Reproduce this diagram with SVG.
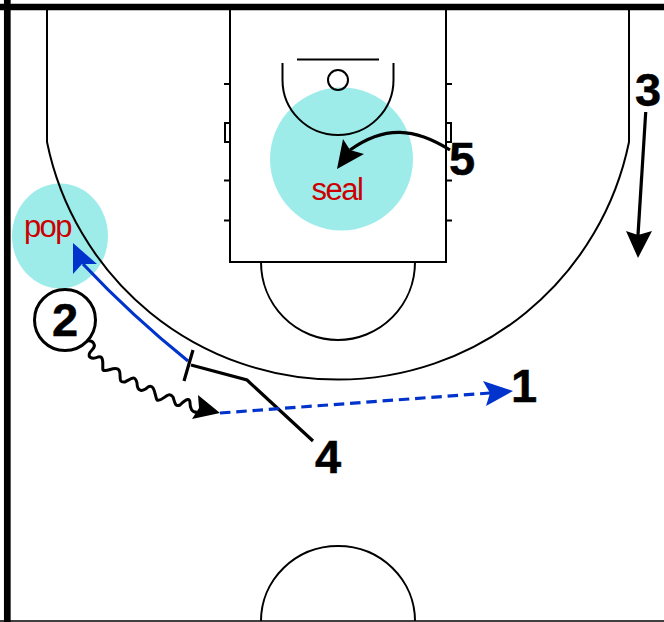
<svg xmlns="http://www.w3.org/2000/svg" width="664" height="622" viewBox="0 0 664 622">
<style>
.court{fill:none;stroke:#000;stroke-width:2}
.zone{fill:#9eecea}
.note{font-family:"Liberation Sans",Arial,sans-serif;font-size:31px;fill:#cc0000;text-anchor:middle;letter-spacing:-1.500px}
.num{font-family:"Liberation Sans",Arial,sans-serif;font-size:47px;font-weight:700;fill:#000;stroke:#000;stroke-width:.5;text-anchor:middle}
.k{fill:none;stroke:#000;stroke-width:3.200}
.w{fill:none;stroke:#000;stroke-width:3}
.b{fill:none;stroke:#0033cc;stroke-width:3.200}
.hk{fill:#000}
.hb{fill:#0033cc}
</style>
<rect width="664" height="622" fill="#fff"/>
<g id="zones">
<circle class="zone" cx="341.500" cy="159" r="71.500"/>
<ellipse class="zone" cx="60" cy="236" rx="48" ry="52.500"/>
</g>
<g id="court">
<path class="court" d="M230 10V262H446V10"/>
<path class="court" d="M47 10V142A297 297 0 0 0 629 142V10"/>
<path class="court" d="M297 59.500H379"/>
<path class="court" d="M282.500 63V80A55.500 55 0 0 0 393.500 80V63"/>
<circle class="court" cx="338" cy="80" r="10"/>
<path class="court" d="M261 262A77 78 0 0 0 415 262"/>
<path class="court" d="M261 621A77 75 0 0 1 415 621"/>
<path class="court" d="M224 84H230M224 180.500H230M224 220.500H230M446 84H452M446 180.500H452M446 220.500H452"/>
<path class="court" d="M230 123H225V142H230M446 123H451V142H446"/>
<path d="M0 7H664M7.300 0V622" fill="none" stroke="#000" stroke-width="6.700"/>
<path d="M0 621H664" fill="none" stroke="#000" stroke-width="1.500"/>
</g>
<g id="connectors">
<path class="w" d="M87 341C93 340 97 345 92 350C85 357 92 360 98 357C105 355 102 367 103 370C107 373 115 365 119 370C122 375 117 383 125 382C132 378 135 375 137 383C137 392 143 392 148 387C155 383 155 397 157 400C163 402 168 390 173 397C175 403 175 407 180 405C187 398 190 398 190 403C190 408 192 413 197 412"/>
<path class="hk" d="M220 413L192 419L199 408L198 395Z"/>
<path class="b" d="M188 361Q132 316 83 264"/>
<path class="hb" d="M73 243L97 264L82 264L73 274Z"/>
<path class="k" d="M193 350L184 381M191 365L247 380L313 441"/>
<path class="b" stroke-dasharray="10.500 5.800" d="M220 413L490 393"/>
<path class="hb" d="M513 391L486 406L490 393L483 381Z"/>
<path class="k" d="M450 150C415 128 385 125 350 150"/>
<path class="hk" d="M337 169L343 139L350 150L364 154Z"/>
<path class="k" d="M645.700 112L638 235"/>
<path class="hk" d="M638 258L626 231L638 235L652 231Z"/>
</g>
<g id="label-seal"><text class="note" x="337" y="200">seal</text></g>
<g id="label-pop"><text class="note" x="47.500" y="237">pop</text></g>
<g id="player-2"><circle cx="65" cy="320" r="30.500" fill="#fff" stroke="#000" stroke-width="3"/><text class="num" x="65" y="336">2</text></g>
<g id="player-3"><text class="num" x="648" y="106">3</text></g>
<g id="player-5"><text class="num" x="462" y="175">5</text></g>
<g id="player-4"><text class="num" x="328" y="473">4</text></g>
<g id="player-1"><text class="num" x="524" y="402">1</text></g>
</svg>
